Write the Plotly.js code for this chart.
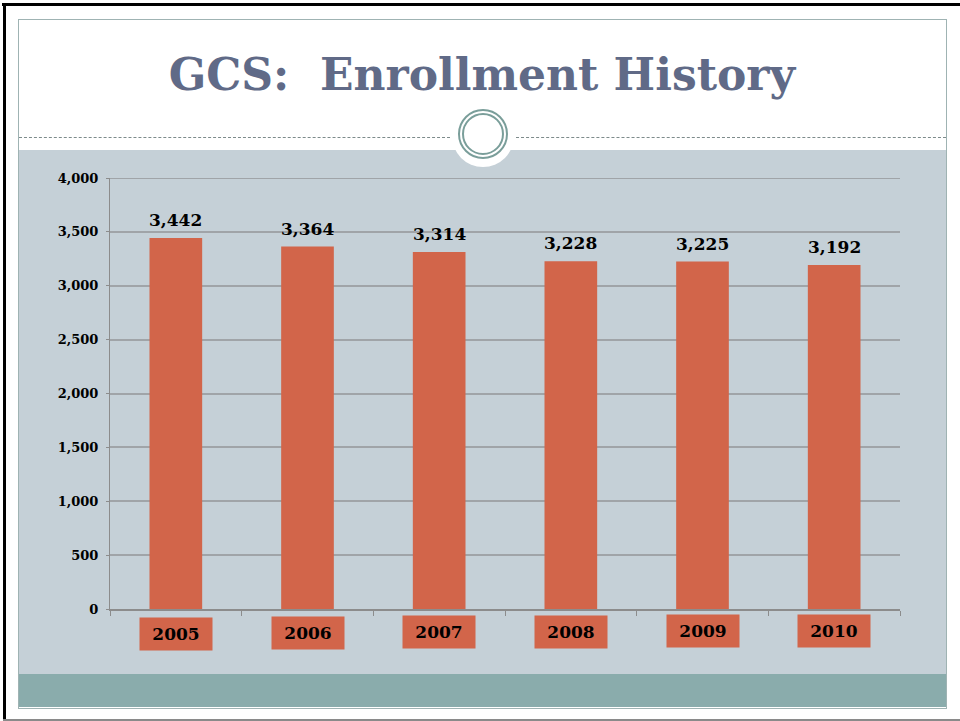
<!DOCTYPE html>
<html>
<head>
<meta charset="utf-8">
<script src="https://cdn.plot.ly/plotly-3.0.1.min.js"></script>
<style>
  html, body { margin: 0; padding: 0; background: #ffffff; }
  #slide { position: relative; width: 960px; height: 721px; overflow: hidden; background: #ffffff; }
  .abs { position: absolute; }
  #outerTop { left: 2px; top: 3px; width: 958px; height: 3px; background: #000; }
  #outerLeft { left: 3px; top: 3px; width: 3px; height: 718px; background: #000; }
  #outerBottom { left: 3px; top: 719px; width: 957px; height: 2px; background: #8a8a8a; }
  #frame { left: 18px; top: 19px; width: 927px; height: 688px; border: 1px solid #9fb3b3; }
  #panel { left: 19px; top: 150px; width: 927px; height: 524px; background: #c5d0d7; }
  #band { left: 19px; top: 674px; width: 927px; height: 33px; background: #8aacac; }
  #dashL { left: 19px; top: 137px; width: 431px; height: 0; border-top: 1px dashed #7d8b8b; }
  #dashR { left: 516px; top: 137px; width: 430px; height: 0; border-top: 1px dashed #7d8b8b; }
  #circW { left: 452px; top: 105px; width: 62px; height: 62px; border-radius: 50%; background: #fff; }
  #ring1 { left: 458px; top: 109px; width: 46px; height: 46px; border-radius: 50%; border: 2px solid #7a9e9a; }
  #ring2 { left: 462px; top: 113px; width: 38px; height: 38px; border-radius: 50%; border: 2px solid #7a9e9a; }
  #chart { left: 0; top: 0; width: 960px; height: 721px; }
</style>
</head>
<body>
<div id="slide">
  <div class="abs" id="panel"></div>
  <div class="abs" id="band"></div>
  <div class="abs" id="frame"></div>
  <div class="abs" id="dashL"></div>
  <div class="abs" id="dashR"></div>
  <div class="abs" id="circW"></div>
  <div class="abs" id="ring1"></div>
  <div class="abs" id="ring2"></div>
  <div class="abs" id="outerTop"></div>
  <div class="abs" id="outerLeft"></div>
  <div class="abs" id="outerBottom"></div>
  <div class="abs" id="chart"></div>
</div>
<script>
const years = ['2005', '2006', '2007', '2008', '2009', '2010'];
const enrollment = [3442, 3364, 3314, 3228, 3225, 3192];
const yTicks = [0, 500, 1000, 1500, 2000, 2500, 3000, 3500, 4000];
const titleText = 'GCS:  Enrollment History';

const serif = 'DejaVu Serif, Liberation Serif, serif';
const barColor = '#d2654a';

const trace = {
  type: 'bar',
  x: years,
  y: enrollment,
  marker: { color: barColor },
  hoverinfo: 'skip'
};

const fmt = v => v.toLocaleString('en-US');

const valueLabels = years.map((yr, i) => ({
  x: i, xref: 'x', y: enrollment[i], yref: 'y',
  xanchor: 'center', yanchor: 'bottom', yshift: 6,
  text: '<b>' + fmt(enrollment[i]) + '</b>',
  showarrow: false,
  font: { family: serif, size: 17, color: '#000' }
}));

const labelShift = [-25, -24, -23, -23, -22, -22];
const yearLabels = years.map((yr, i) => ({
  x: i, xref: 'x', y: 0, yref: 'y',
  yanchor: 'middle', xanchor: 'center',
  yshift: labelShift[i],
  text: '<b>' + yr + '</b>',
  showarrow: false,
  bgcolor: barColor,
  width: 70, height: 30, borderpad: 1,
  font: { family: serif, size: 17, color: '#000' }
}));

const layout = {
  width: 960, height: 721,
  margin: { l: 110, r: 60, t: 178, b: 112, pad: 0 },
  paper_bgcolor: 'rgba(0,0,0,0)',
  plot_bgcolor: 'rgba(0,0,0,0)',
  separators: '.,',
  showlegend: false,
  bargap: 0.6,
  title: {
    text: '<b>' + titleText + '</b>',
    xref: 'container', yref: 'container',
    x: 0.502, y: 0.897, xanchor: 'center', yanchor: 'middle',
    font: { family: serif, size: 44, color: '#606a87' }
  },
  xaxis: {
    type: 'category',
    categoryorder: 'array', categoryarray: years,
    range: [-0.5, 5.5], autorange: false,
    showticklabels: false,
    showgrid: false,
    tickson: 'boundaries',
    ticks: 'outside', ticklen: 5, tickcolor: '#8c8c8c', tickwidth: 1,
    showline: true, linecolor: '#8c8c8c', linewidth: 2,
    zeroline: false
  },
  yaxis: {
    range: [0, 4000], autorange: false,
    tickvals: yTicks,
    tickformat: ',d',
    showgrid: true, gridcolor: '#a0a4a8', gridwidth: 2,
    showline: true, linecolor: '#8c8c8c', linewidth: 1,
    ticks: 'outside', ticklen: 3, tickcolor: '#8c8c8c',
    zeroline: false,
    tickfont: { family: serif, size: 13, color: '#000', weight: 'bold' },
    ticklabelstandoff: 5
  },
  shapes: [{
    type: 'line', xref: 'paper', yref: 'y',
    x0: 0, x1: 1, y0: yTicks[yTicks.length - 1], y1: yTicks[yTicks.length - 1],
    line: { color: '#a0a4a8', width: 2 }, layer: 'below'
  }],
  annotations: valueLabels.concat(yearLabels)
};

Plotly.newPlot('chart', [trace], layout, { displayModeBar: false, staticPlot: true });
</script>
</body>
</html>
